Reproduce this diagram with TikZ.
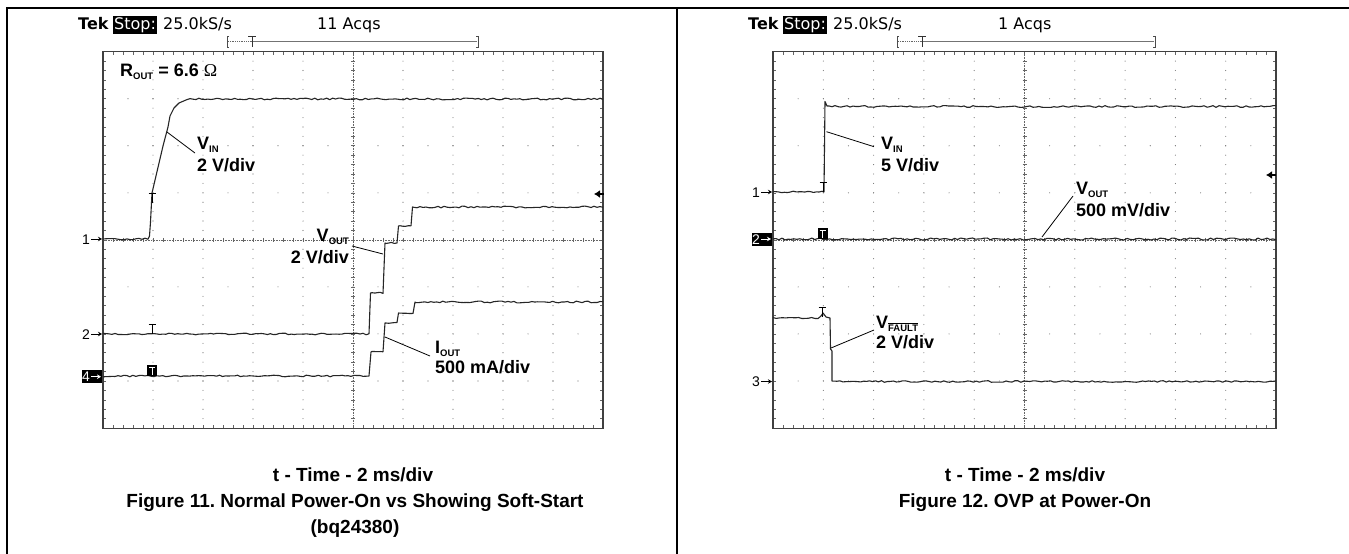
\documentclass[tikz,border=0pt]{standalone}
\usepackage{fontspec}
\setmainfont{Liberation Sans}
\newfontfamily\tekfont{DejaVu Sans}
\newfontfamily\omegafont{Liberation Serif}
\usetikzlibrary{arrows.meta}
\frenchspacing

\tikzset{
  tracestyle/.style={draw=black!85, line width=1.1pt, line join=round},
  leaderline/.style={draw=black, line width=0.8pt},
  lbl/.style={font=\fontsize{18}{20}\selectfont\bfseries, inner sep=0pt, anchor=base west},
  captxt/.style={font=\fontsize{19}{22}\selectfont\bfseries, inner sep=0pt, anchor=base},
  frameline/.style={draw=black, line width=1.2pt},
  gborder/.style={draw=black!75, line width=1.1pt},
  gdot/.style={fill=black!55},
  gtick/.style={draw=black!60, line width=0.6pt},
  tek/.style={font=\tekfont\fontsize{16}{17}\selectfont, inner sep=0pt, anchor=base west},
  chan/.style={font=\fontsize{14}{14}\selectfont, inner sep=0pt, anchor=base east},
}

\newcommand\subtxt[1]{\raisebox{-3pt}{\fontsize{9.5}{10}\selectfont #1}}

\newcommand\graticule[2]{%
  \foreach \i in {1,2,3,4,6,7,8,9}{
    \foreach \k in {1,...,39}{
      \fill[gdot] ({#1+\i*#2},{51.7+\k*47.04/5}) circle[radius=0.55pt];
    }
  }
  \foreach \j in {1,2,3,5,6,7}{
    \foreach \k in {1,...,19}{
      \fill[gdot] ({#1+\k*#2/2},{51.7+\j*47.04}) circle[radius=0.55pt];
    }
  }
  \draw[gtick, densely dotted] ({#1+5*#2},51.7) -- ({#1+5*#2},428.1);
  \draw[gtick, densely dotted] (#1,{51.7+4*47.04}) -- ({#1+10*#2},{51.7+4*47.04});
  \foreach \k in {1,...,39}{
    \draw[gtick] ({#1+5*#2-2},{51.7+\k*47.04/5}) -- ++(4,0);
    \draw[gtick] (#1,{51.7+\k*47.04/5}) -- ++(3,0);
    \draw[gtick] ({#1+10*#2},{51.7+\k*47.04/5}) -- ++(-3,0);
  }
  \foreach \k in {1,...,49}{
    \draw[gtick] ({#1+\k*#2/5},{51.7+4*47.04-2}) -- ++(0,4);
    \draw[gtick] ({#1+\k*#2/5},51.7) -- ++(0,3);
    \draw[gtick] ({#1+\k*#2/5},428.1) -- ++(0,-3);
  }
  \draw[gborder] (#1,51.7) rectangle ({#1+10*#2},428.1);
}

\newcommand\trigT[2]{\draw[black, line width=0.9pt] ({#1-3.5},#2) -- ({#1+3.5},#2) (#1,#2) -- (#1,{#2+10});}
\newcommand\trigInv[2]{\fill[black] ({#1-5},#2) rectangle ({#1+5},{#2+11});
  \draw[white, line width=0.9pt] ({#1-3},{#2+2}) -- ({#1+3},{#2+2}) (#1,{#2+2}) -- (#1,{#2+9.5});}

\newcommand\chmark[4]{%
  \node[chan] (#4) at ({#1-13},{#2+5}) {#3};
  \coordinate (#4a) at ({#1-12},#2);
  \coordinate (#4b) at ({#1-1},#2);
  \draw[line width=0.8pt, -{Stealth[length=4pt,width=4.5pt]}] (#4a) -- (#4b);
}
\newcommand\chmarkinv[4]{%
  \fill[black] ({#1-21},{#2-6.5}) rectangle ({#1-1.5},{#2+6.5});
  \node[chan, text=white] (#4) at ({#1-13},{#2+5}) {#3};
  \coordinate (#4a) at ({#1-12},#2);
  \coordinate (#4b) at ({#1-2},#2);
  \draw[white, line width=0.8pt, -{Stealth[length=4pt,width=4.5pt]}] (#4a) -- (#4b);
}

\begin{document}
\begin{tikzpicture}[x=1pt,y=-1pt]
\useasboundingbox (0,0) rectangle (1349,554);
\fill[white] (0,0) rectangle (1349,554);

% table frame
\draw[frameline] (7,554) -- (7,8) -- (1349,8);
\draw[frameline] (677,8) -- (677,554);

% ===================== LEFT PANEL =====================
\node[tek, font=\tekfont\bfseries\fontsize{16}{17}\selectfont] (tekL) at (78,29.5) {Tek};
\node[tek, fill=black, text=white, inner xsep=1pt, inner ysep=1.5pt] (stopL) at (113,29.5) {Stop:};
\node[tek] (rateL) at (163,29.5) {25.0kS/s};
\node[tek] (acqL) at (317,29.5) {11 Acqs};
\draw[black!70, line width=0.9pt] (229,36) -- (227,36) -- (227,47) -- (229,47);
\draw[black!70, line width=0.9pt] (476,36) -- (478,36) -- (478,47) -- (476,47);
\draw[black!60, line width=0.8pt, densely dotted] (228,41.7) -- (252,41.7);
\draw[black!55, line width=0.8pt] (252,41.7) -- (477,41.7);
\draw[black!80, line width=0.9pt] (248,36) -- (256,36) (252,36) -- (252,47);

\graticule{103}{50.0}

\pgfmathsetseed{11}
% VIN
\draw[tracestyle] plot[domain=103:148, samples=16] (\x,{239+0.9*rand}) -- (149.5,236) -- (150.5,222) -- (152,193) -- (163,146) -- (168,127) -- (170,116) -- (174,108) -- (179,103) -- (186,100) -- plot[domain=190:603, samples=140] (\x,{99+0.9*rand});
% VOUT
\draw[tracestyle] plot[domain=103:369, samples=90] (\x,{334+0.8*rand}) -- (370.5,293) -- plot[domain=372:383,samples=5] (\x,{293+0.7*rand}) -- (385,243) -- plot[domain=386:397,samples=5] (\x,{243+0.7*rand}) -- (398.5,226) -- plot[domain=400:411,samples=5] (\x,{226+0.7*rand}) -- (412.5,207) -- plot[domain=414:603,samples=64] (\x,{207+0.9*rand});
% IOUT
\draw[tracestyle] plot[domain=103:369, samples=90] (\x,{376+0.8*rand}) -- (371,352) -- plot[domain=372:383,samples=5] (\x,{352+0.7*rand}) -- (385,323) -- plot[domain=386:397,samples=5] (\x,{323+0.7*rand}) -- (398.5,313) -- plot[domain=400:413,samples=5] (\x,{313+0.7*rand}) -- (415,302) -- plot[domain=416:603,samples=64] (\x,{302+0.9*rand});

\trigT{152}{193}
\trigT{152}{324}
\trigInv{152}{365}

\chmark{103}{239}{1}{c1L}
\chmark{103}{334}{2}{c2L}
\chmarkinv{103}{376.7}{4}{c4L}

\coordinate (lvlLa) at (604,194);
\coordinate (lvlLb) at (594,194);
\draw[line width=1.6pt, -{Latex[length=6pt,width=8pt]}] (lvlLa) -- (lvlLb);

\node[lbl] (rout) at (120,76) {R\subtxt{OUT} = 6.6 {\omegafont\mdseries Ω}};
\node[lbl] (vinL) at (197,149) {V\subtxt{IN}};
\node[lbl] (vinLd) at (197,171) {2 V/div};
\node[lbl, anchor=base east] (voutL) at (349,241) {V\subtxt{OUT}};
\node[lbl, anchor=base east] (voutLd) at (349,263) {2 V/div};
\node[lbl] (ioutL) at (435,353) {I\subtxt{OUT}};
\node[lbl] (ioutLd) at (435,373) {500 mA/div};

\coordinate (pvinL) at (167,132);
\coordinate (evinL) at (195,153);
\draw[leaderline] (pvinL) -- (evinL);
\coordinate (pvoutL) at (383,254);
\coordinate (evoutL) at (352,246);
\draw[leaderline] (evoutL) -- (pvoutL);
\coordinate (pioutL) at (385,337);
\coordinate (eioutL) at (430,356);
\draw[leaderline] (pioutL) -- (eioutL);

\node[captxt] (xl) at (353,481) {t - Time - 2 ms/div};
\node[captxt] (fl) at (355,507) {Figure 11. Normal Power-On vs Showing Soft-Start};
\node[captxt] (bl) at (355,533) {(bq24380)};

% ===================== RIGHT PANEL =====================
\node[tek, font=\tekfont\bfseries\fontsize{16}{17}\selectfont] (tekR) at (748,29.5) {Tek};
\node[tek, fill=black, text=white, inner xsep=1pt, inner ysep=1.5pt] (stopR) at (783,29.5) {Stop:};
\node[tek] (rateR) at (833,29.5) {25.0kS/s};
\node[tek] (acqR) at (998,29.5) {1 Acqs};
\draw[black!70, line width=0.9pt] (899,36) -- (897,36) -- (897,47) -- (899,47);
\draw[black!70, line width=0.9pt] (1153,36) -- (1155,36) -- (1155,47) -- (1153,47);
\draw[black!60, line width=0.8pt, densely dotted] (898,41.7) -- (922,41.7);
\draw[black!55, line width=0.8pt] (922,41.7) -- (1154,41.7);
\draw[black!80, line width=0.9pt] (918,36) -- (926,36) (922,36) -- (922,47);

\graticule{773}{50.3}

\pgfmathsetseed{23}
% VIN
\draw[tracestyle] plot[domain=773:822, samples=18] (\x,{192+0.8*rand}) -- (824,192) -- (825,101.5) -- (827,106) -- plot[domain=829:1276, samples=150] (\x,{106.5+0.9*rand});
% VOUT
\draw[tracestyle] plot[domain=773:1276, samples=170] (\x,{239+1.0*rand});
% VFAULT
\draw[tracestyle] plot[domain=773:818, samples=15] (\x,{318+0.7*rand}) -- (821,316) -- (823,313) -- (826,317) -- (830,318) -- (830.5,349) -- (832,351) -- (832,381) -- plot[domain=834:1276, samples=150] (\x,{381.5+0.8*rand});

\trigT{823}{182}
\trigT{822}{307}
\trigInv{822.5}{228}

\chmark{773}{192}{1}{c1R}
\chmarkinv{773}{239}{2}{c2R}
\chmark{773}{381.5}{3}{c3R}

\coordinate (lvlRa) at (1276,175);
\coordinate (lvlRb) at (1266,175);
\draw[line width=1.6pt, -{Latex[length=6pt,width=8pt]}] (lvlRa) -- (lvlRb);

\node[lbl] (vinR) at (881,149) {V\subtxt{IN}};
\node[lbl] (vinRd) at (881,171) {5 V/div};
\node[lbl] (voutR) at (1076,194) {V\subtxt{OUT}};
\node[lbl] (voutRd) at (1076,216) {500 mV/div};
\node[lbl] (vfR) at (876,328) {V\subtxt{$\overline{\mbox{FAULT}}$}};
\node[lbl] (vfRd) at (876,348) {2 V/div};

\coordinate (pvinR) at (826.5,131.7);
\coordinate (evinR) at (874,146.7);
\draw[leaderline] (pvinR) -- (evinR);
\coordinate (pvoutR) at (1042,237);
\coordinate (evoutR) at (1073,196);
\draw[leaderline] (evoutR) -- (pvoutR);
\coordinate (pvfR) at (831,348);
\coordinate (evfR) at (874,330);
\draw[leaderline] (pvfR) -- (evfR);

\node[captxt] (xr) at (1025,481) {t - Time - 2 ms/div};
\node[captxt] (fr) at (1025,507) {Figure 12. OVP at Power-On};
\end{tikzpicture}
\end{document}
